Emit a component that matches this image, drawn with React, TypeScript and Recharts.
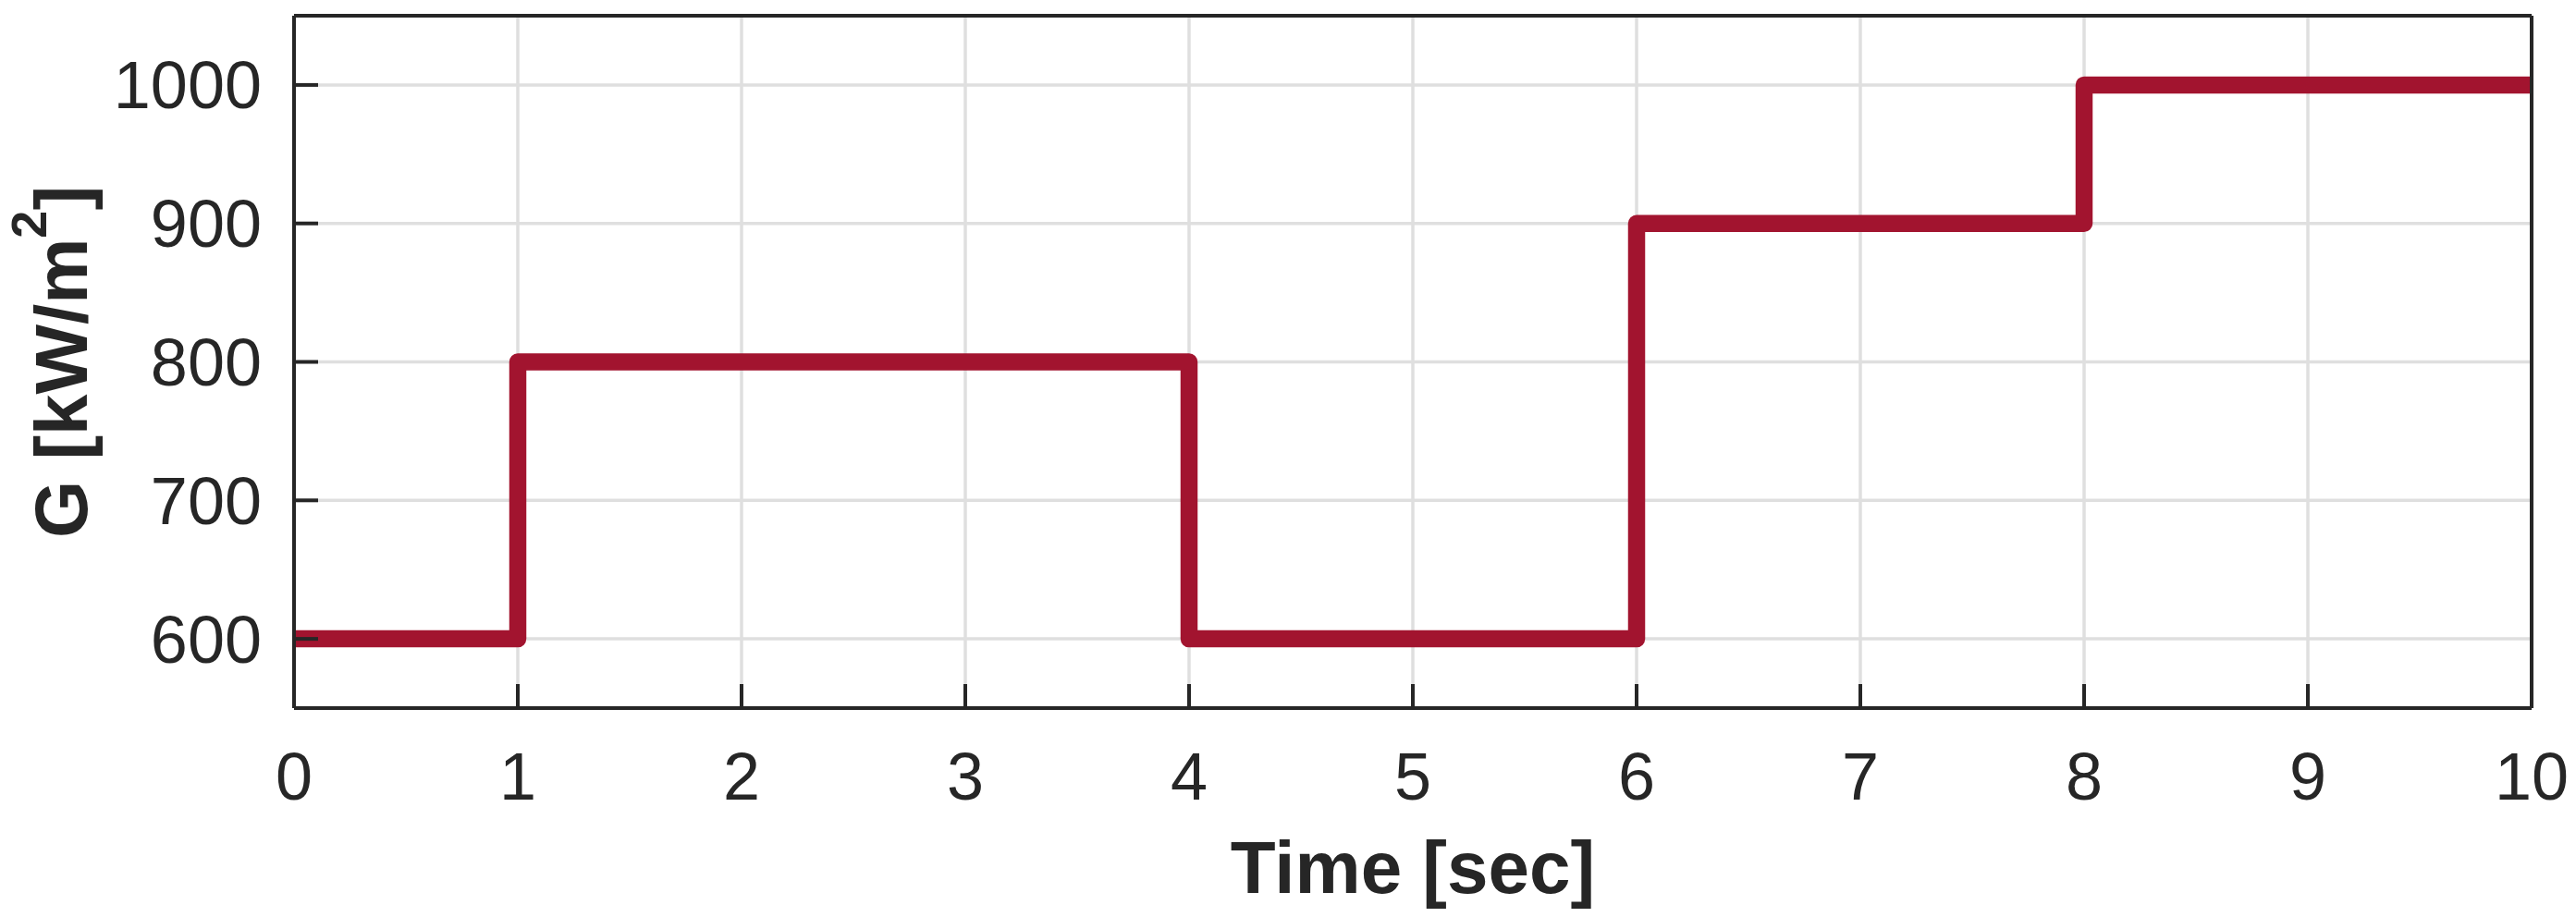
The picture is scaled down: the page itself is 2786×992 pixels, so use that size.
import { LineChart, Line, XAxis, YAxis, CartesianGrid } from "recharts";

// irradiance step profile
const times = [0, 1, 4, 6, 8, 10];
const irradiance = [600, 800, 600, 900, 1000, 1000];
const xTicks = [0, 1, 2, 3, 4, 5, 6, 7, 8, 9, 10];
const yTicks = [600, 700, 800, 900, 1000];
const xDomain = [0, 10];
const yDomain = [550, 1050];

const INK = "#262626";
const FONT = "'Liberation Sans', Arial, Helvetica, sans-serif";

const data = times.map((t, i) => ({ t, g: irradiance[i] }));

function YLabel({ viewBox }: any) {
  const cx = viewBox.x + 94;
  const cy = viewBox.y + viewBox.height / 2;
  return (
    <text
      x={cx}
      y={cy}
      transform={`rotate(-90, ${cx}, ${cy})`}
      textAnchor="middle"
      fill={INK}
      fontFamily={FONT}
      fontWeight="bold"
      fontSize={80}
    >
      <tspan>G [kW/m</tspan>
      <tspan fontSize={54} dy={-44}>2</tspan>
      <tspan dy={44}>]</tspan>
    </text>
  );
}

function XLabel({ viewBox }: any) {
  return (
    <text
      x={viewBox.x + viewBox.width / 2}
      y={viewBox.y + 200}
      textAnchor="middle"
      fill={INK}
      fontFamily={FONT}
      fontWeight="bold"
      fontSize={80}
    >
      Time [sec]
    </text>
  );
}

export default function App() {
  const tickStyle = { fill: INK, fontSize: 72, fontFamily: FONT };
  return (
    <div style={{ position: "absolute", left: 0, top: 0, background: "#fff" }}>
      <LineChart
        width={2786}
        height={992}
        data={data}
        margin={{ top: 17, right: 48, left: 0, bottom: 0 }}
      >
        <CartesianGrid stroke="#dfdfdf" strokeWidth={3.5} />
        <XAxis
          dataKey="t"
          type="number"
          domain={xDomain}
          ticks={xTicks}
          allowDataOverflow
          height={226}
          tick={tickStyle}
          tickSize={-26}
          tickMargin={74}
          tickLine={{ stroke: INK, strokeWidth: 4 }}
          axisLine={{ stroke: INK, strokeWidth: 4 }}
          label={<XLabel />}
        />
        <XAxis
          xAxisId="top"
          orientation="top"
          mirror
          type="number"
          domain={xDomain}
          ticks={xTicks}
          allowDataOverflow
          tick={false}
          tickSize={26}
          tickLine={{ stroke: INK, strokeWidth: 4 }}
          axisLine={{ stroke: INK, strokeWidth: 4 }}
        />
        <YAxis
          type="number"
          domain={yDomain}
          ticks={yTicks}
          allowDataOverflow
          width={318}
          tick={tickStyle}
          tickSize={-26}
          tickMargin={61}
          tickLine={{ stroke: INK, strokeWidth: 4 }}
          axisLine={{ stroke: INK, strokeWidth: 4 }}
          label={<YLabel />}
        />
        <YAxis
          yAxisId="right"
          orientation="right"
          mirror
          type="number"
          domain={yDomain}
          ticks={yTicks}
          allowDataOverflow
          tick={false}
          tickSize={26}
          tickLine={{ stroke: INK, strokeWidth: 4 }}
          axisLine={{ stroke: INK, strokeWidth: 4 }}
        />
        <Line
          type="stepAfter"
          dataKey="g"
          stroke="#a2142f"
          strokeWidth={18.5}
          strokeLinejoin="round"
          dot={false}
          activeDot={false}
          isAnimationActive={false}
        />
      </LineChart>
    </div>
  );
}
